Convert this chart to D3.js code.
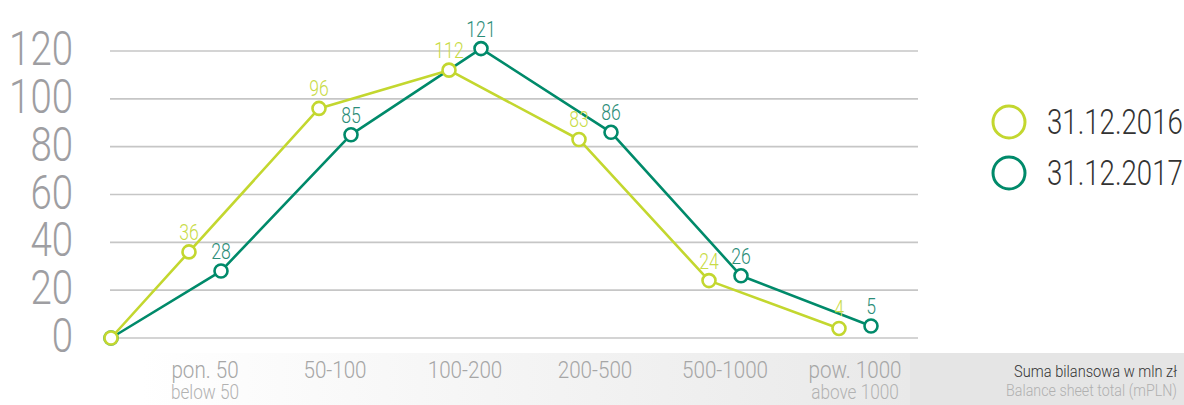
<!DOCTYPE html>
<html>
<head>
<meta charset="utf-8">
<script src="https://cdn.jsdelivr.net/npm/d3@7"></script>
<style>
  html, body { margin: 0; padding: 0; background: #ffffff; }
  svg { display: block; }
  text { font-family: Roboto, "Open Sans", sans-serif; font-weight: 300; }
</style>
</head>
<body>
<svg id="chart" width="1184" height="405"></svg>
<script>
// Size classes of balance sheet total (mPLN)
const categoriesPl = ["pon. 50", "50-100", "100-200", "200-500", "500-1000", "pow. 1000"];
const categoriesEn = ["below 50", "", "", "", "", "above 1000"];

// Number of entities per class
const seriesNames = ["31.12.2016", "31.12.2017"];
const values2016 = [36, 96, 112, 83, 24, 4];
const values2017 = [28, 85, 121, 86, 26, 5];
const startValue = 0;

const yTicks = [0, 20, 40, 60, 80, 100, 120];

const colors = { "31.12.2016": "#c3d72f", "31.12.2017": "#008a6a" };
const labelColors = { "31.12.2016": "#c8db45", "31.12.2017": "#2b8d78" };

const W = 1184, H = 405;
const plotLeft = 110, plotRight = 918;
const SX = 0.76; // condensed text

const svg = d3.select("#chart");

// Horizontal band behind the category labels
const defs = svg.append("defs");
const grad = defs.append("linearGradient")
  .attr("id", "bandGrad")
  .attr("gradientUnits", "userSpaceOnUse")
  .attr("x1", 140).attr("x2", 910).attr("y1", 0).attr("y2", 0);
grad.append("stop").attr("offset", 0).attr("stop-color", "#ffffff");
grad.append("stop").attr("offset", 1).attr("stop-color", "#e9e9e9");
svg.append("rect")
  .attr("x", 130).attr("y", 353).attr("width", 780).attr("height", H - 353)
  .attr("fill", "url(#bandGrad)");
svg.append("rect")
  .attr("x", 910).attr("y", 353).attr("width", W - 910).attr("height", H - 353)
  .attr("fill", "#e5e5e5");

// Scales
const y = d3.scaleLinear().domain([0, 120]).range([338, 51]);
const x = d3.scaleBand().domain(categoriesPl).range([140, 920]);
const xs = d3.scalePoint().domain(seriesNames).range([-16, 16]);
const xStart = plotLeft + 1;

function condensedText(parent, px, py, str, opts) {
  const g = parent.append("g").attr("transform", `translate(${px},${py}) scale(${opts.sx || SX},1)`);
  return g.append("text")
    .attr("x", 0).attr("y", 0)
    .attr("text-anchor", opts.anchor || "middle")
    .attr("font-size", opts.size)
    .attr("fill", opts.fill)
    .text(str);
}

// Gridlines
svg.append("g").selectAll("line")
  .data(yTicks)
  .join("line")
  .attr("x1", plotLeft).attr("x2", plotRight)
  .attr("y1", d => y(d)).attr("y2", d => y(d))
  .attr("stroke", "#c6c6c6").attr("stroke-width", 1.6);

// Y tick labels
const yLab = svg.append("g");
yTicks.forEach(v => {
  condensedText(yLab, 73, y(v) - 3 + 0.355 * 48, String(v), { size: 48, fill: "#9e9ea2", anchor: "end", sx: 0.8 });
});

// X category labels
const xLab = svg.append("g");
categoriesPl.forEach((c, i) => {
  const cx = x(c) + x.bandwidth() / 2;
  condensedText(xLab, cx, 378, c, { size: 24, fill: "#a6a6a6", sx: 0.86 });
  if (categoriesEn[i]) {
    condensedText(xLab, cx, 399, categoriesEn[i], { size: 20, fill: "#b2b2b2", sx: 0.86 });
  }
});

// Series
const series = [
  { name: "31.12.2017", values: values2017 },
  { name: "31.12.2016", values: values2016 }
];

const line = d3.line().x(d => d.x).y(d => y(d.v));

series.forEach(s => {
  const pts = [{ x: xStart, v: startValue, label: false }].concat(
    s.values.map((v, i) => ({ x: x(categoriesPl[i]) + x.bandwidth() / 2 + xs(s.name), v: v, label: true }))
  );
  const g = svg.append("g");
  g.append("path")
    .attr("d", line(pts))
    .attr("fill", "none")
    .attr("stroke", colors[s.name])
    .attr("stroke-width", 2.6)
    .attr("stroke-linejoin", "round");
  g.selectAll("circle")
    .data(pts)
    .join("circle")
    .attr("cx", d => d.x).attr("cy", d => y(d.v))
    .attr("r", 6.5)
    .attr("fill", "#ffffff")
    .attr("stroke", colors[s.name])
    .attr("stroke-width", 2.6);
  pts.filter(d => d.label).forEach(d => {
    condensedText(g, d.x, y(d.v) - 12, String(d.v), { size: 22, fill: labelColors[s.name], sx: 0.8 });
  });
});

// Legend
const leg = svg.append("g");
seriesNames.forEach((n, i) => {
  const cy = 122 + i * 51;
  leg.append("circle")
    .attr("cx", 1009).attr("cy", cy).attr("r", 16)
    .attr("fill", "none")
    .attr("stroke", colors[n])
    .attr("stroke-width", 3);
  condensedText(leg, 1047, cy + 11.5, n, { size: 35, fill: "#333333", anchor: "start", sx: 0.79 });
});

// Axis caption
condensedText(svg, 1177, 377, "Suma bilansowa w mln zł", { size: 17, fill: "#333333", anchor: "end", sx: 0.86 });
condensedText(svg, 1177, 396, "Balance sheet total (mPLN)", { size: 17, fill: "#b0b0b0", anchor: "end", sx: 0.84 });
</script>
</body>
</html>
